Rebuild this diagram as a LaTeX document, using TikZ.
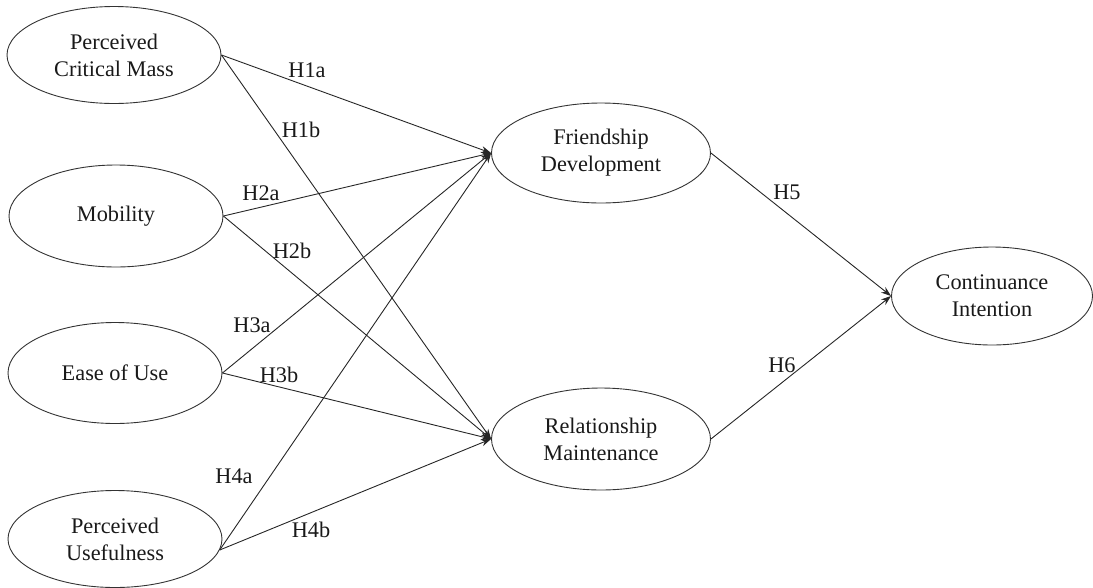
\documentclass[tikz,border=0pt]{standalone}
\usepackage{fontspec}
\setmainfont{Liberation Serif}
\usetikzlibrary{shapes.geometric,arrows.meta}
\begin{document}
\begin{tikzpicture}[x=1pt,y=-1pt,
  construct/.style={ellipse,draw=black!80,line width=0.9pt,inner sep=0pt,
    align=center,font=\fontsize{22.3}{27}\selectfont,text=black!90},
  leftc/.style={construct,minimum width=214pt,minimum height=97pt},
  midc/.style={construct,minimum width=219pt,minimum height=100pt},
  hyp/.style={font=\fontsize{22.3}{27}\selectfont,text=black!90,inner sep=0pt},
  link/.style={draw=black!85,line width=0.9pt,-{Stealth[length=10pt,width=7pt]}}]
\useasboundingbox (0,0) rectangle (1093,587);
% constructs
\node[leftc] (pcm) at (114,55) {Perceived\\Critical Mass};
\node[leftc,minimum height=102pt] (mob) at (116,216) {Mobility};
\node[leftc,minimum height=101pt] (eou) at (115,373) {Ease of Use};
\node[leftc] (pu) at (115,539) {Perceived\\Usefulness};
\node[midc] (fd) at (601,153) {Friendship\\Development};
\node[midc,minimum height=102pt] (rm) at (601,439) {Relationship\\Maintenance};
\node[construct,minimum width=201pt,minimum height=98pt] (ci) at (992,296) {Continuance\\Intention};
% connectors
\draw[link] (pcm.east) -- (fd.west);
\draw[link] (pcm.east) -- (rm.west);
\draw[link] (mob.east) -- (fd.west);
\draw[link] (mob.east) -- (rm.west);
\draw[link] (eou.east) -- (fd.west);
\draw[link] (eou.east) -- (rm.west);
\draw[link] (pu.-6) -- (fd.west);
\draw[link] (pu.-6) -- (rm.west);
\draw[link] (fd.east) -- (ci.west);
\draw[link] (rm.east) -- (ci.west);
% labels
\node[hyp] (h1a) at (307,70) {H1a};
\node[hyp] (h1b) at (301,130) {H1b};
\node[hyp] (h2a) at (261,193) {H2a};
\node[hyp] (h2b) at (292,251) {H2b};
\node[hyp] (h3a) at (252,325) {H3a};
\node[hyp] (h3b) at (279,375) {H3b};
\node[hyp] (h4a) at (234,476) {H4a};
\node[hyp] (h4b) at (311,530) {H4b};
\node[hyp] (h5) at (787,192) {H5};
\node[hyp] (h6) at (782,365) {H6};
\end{tikzpicture}
\end{document}
